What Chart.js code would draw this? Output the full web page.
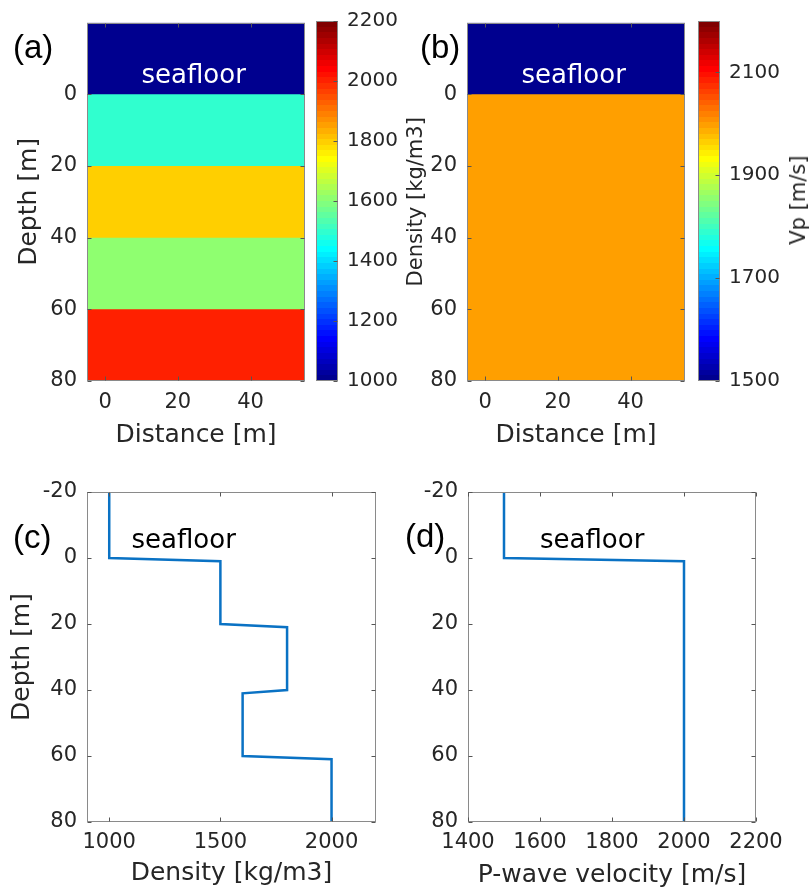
<!DOCTYPE html>
<html>
<head>
<meta charset="utf-8">
<script src="https://cdn.jsdelivr.net/npm/chart.js@4.4.0/dist/chart.umd.min.js"></script>
<style>
  body { margin: 0; background: #fff; }
  #fig { position: relative; width: 809px; height: 891px; overflow: hidden; }
  canvas { position: absolute; }
  .tag { position: absolute; font-family: "Liberation Sans"; font-size: 33px; color: #000; line-height: 1; }
  .cbtitle { position: absolute; font-family: "DejaVu Sans"; font-size: 21px; color: #262626;
             white-space: nowrap; transform: translate(-50%, -50%) rotate(-90deg); }
</style>
</head>
<body>
<div id="fig">
  <canvas id="rhoMap" width="312" height="460" style="left:0;top:0"></canvas>
  <canvas id="rhoBar" width="90" height="460" style="left:310px;top:0"></canvas>
  <canvas id="vpMap" width="295" height="460" style="left:400px;top:0"></canvas>
  <canvas id="vpBar" width="117" height="460" style="left:692px;top:0"></canvas>
  <canvas id="rhoLine" width="400" height="431" style="left:0;top:460px"></canvas>
  <canvas id="vpLine" width="409" height="431" style="left:400px;top:460px"></canvas>
  <div class="tag" style="left:13px;top:30px">(a)</div>
  <div class="tag" style="left:420px;top:30px">(b)</div>
  <div class="tag" style="left:13px;top:520px">(c)</div>
  <div class="tag" style="left:405px;top:519px">(d)</div>
  <div class="cbtitle" style="left:798px;top:200px">Vp [m/s]</div>
</div>
<script>
// layered model: top depth of each layer, the last one runs to the bottom
const layerTop = [-20, 0, 20, 40, 60];
const rhoLayer = [1000, 1500, 1800, 1600, 2000];
const vpTop = [-20, 0];
const vpLayer = [1500, 2000];
const distanceEdges = [-5, 55];

// 1-D profiles
const rhoDepth = [-20, 0, 1, 20, 21, 40, 41, 60, 61, 80];
const rhoProfile = [1000, 1000, 1500, 1500, 1800, 1800, 1600, 1600, 2000, 2000];
const vpDepth = [-20, 0, 1, 80];
const vpProfile = [1500, 1500, 2000, 2000];

// axis ticks
const mapDepthTicks = [0, 20, 40, 60, 80];
const distTicks = [0, 20, 40];
const rhoBarTicks = [1000, 1200, 1400, 1600, 1800, 2000, 2200];
const vpBarTicks = [1500, 1700, 1900, 2100];
const lineDepthTicks = [-20, 0, 20, 40, 60, 80];
const rhoTicks = [1000, 1500, 2000];
const vpTicks = [1400, 1600, 1800, 2000, 2200];

Chart.defaults.font.family = 'DejaVu Sans';
Chart.defaults.color = '#262626';
Chart.defaults.animation = false;

// matlab's jet(64)
function jet64() {
  const n = 64, m = 16;
  const u = [];
  for (let i = 1; i <= m; i++) u.push(i / m);
  for (let i = 1; i < m; i++) u.push(1);
  for (let i = m; i >= 1; i--) u.push(i / m);
  const J = Array.from({ length: n }, () => [0, 0, 0]);
  u.forEach((val, k) => {
    const g = m / 2 + k + 1;
    if (g + m <= n) J[g + m - 1][0] = val;
    J[g - 1][1] = val;
    if (g - m >= 1) J[g - m - 1][2] = val;
  });
  return J;
}
const jet = jet64();
const rgb = c => `rgb(${Math.round(c[0] * 255)},${Math.round(c[1] * 255)},${Math.round(c[2] * 255)})`;

function mapColor(v, lo, hi) {
  let i = Math.floor((v - lo) / (hi - lo) * 64);
  i = Math.max(0, Math.min(63, i));
  return rgb(jet[i]);
}

function jetGradient(ctx, area) {
  const g = ctx.createLinearGradient(0, area.bottom, 0, area.top);
  jet.forEach((c, i) => {
    g.addColorStop(i / 64, rgb(c));
    g.addColorStop((i + 1) / 64, rgb(c));
  });
  return g;
}

// box around the axes with inward tick marks, like matlab
const boxPlugin = {
  id: 'box',
  afterDatasetsDraw(chart, args, opts) {
    const { ctx, chartArea: a, scales } = chart;
    const L = Math.round(a.left) + 0.5, R = Math.round(a.right) - 0.5;
    const T = Math.round(a.top) + 0.5, B = Math.round(a.bottom) - 0.5;
    ctx.save();
    ctx.strokeStyle = '#8a8a8a';
    ctx.lineWidth = 1;
    ctx.strokeRect(L, T, R - L, B - T);
    ctx.strokeStyle = '#555';
    ctx.beginPath();
    const len = 4;
    if (!opts.barOnly) {
      scales.x.ticks.forEach(t => {
        const px = Math.round(scales.x.getPixelForValue(t.value)) + 0.5;
        ctx.moveTo(px, B); ctx.lineTo(px, B - len);
        ctx.moveTo(px, T); ctx.lineTo(px, T + len);
      });
    }
    scales.y.ticks.forEach(t => {
      const py = Math.round(scales.y.getPixelForValue(t.value)) + 0.5;
      if (!opts.barOnly) { ctx.moveTo(L, py); ctx.lineTo(L + len, py); }
      ctx.moveTo(R, py); ctx.lineTo(R - len, py);
    });
    ctx.stroke();
    ctx.restore();
  }
};

// "seafloor" annotation placed in data coordinates
const notePlugin = {
  id: 'note',
  afterDatasetsDraw(chart, args, opts) {
    if (!opts.text) return;
    const { ctx, scales } = chart;
    ctx.save();
    ctx.font = '26px "DejaVu Sans"';
    ctx.fillStyle = opts.color;
    ctx.textAlign = 'left';
    ctx.textBaseline = 'middle';
    ctx.fillText(opts.text, scales.x.getPixelForValue(opts.x), scales.y.getPixelForValue(opts.y));
    ctx.restore();
  }
};

function fixedTicks(list) {
  return scale => { scale.ticks = list.map(v => ({ value: v })); };
}
const plain = v => String(v);
const noGrid = { display: false, drawTicks: false };

function xAxis(min, max, ticks, title, h, titlePad, tickPad) {
  return {
    type: 'linear', min, max,
    afterBuildTicks: fixedTicks(ticks),
    afterFit: s => { s.height = h; },
    grid: noGrid, border: { display: false },
    ticks: { font: { size: 21 }, padding: tickPad, maxRotation: 0, callback: plain },
    title: { display: true, text: title, font: { size: 25 }, padding: { bottom: titlePad } }
  };
}

function yAxis(min, max, ticks, title, w, titleSize, titlePad) {
  return {
    type: 'linear', min, max, reverse: true,
    afterBuildTicks: fixedTicks(ticks),
    afterFit: s => { s.width = w; },
    grid: noGrid, border: { display: false },
    ticks: { font: { size: 21 }, padding: 10, callback: plain },
    title: { display: !!title, text: title, font: { size: titleSize }, padding: { top: titlePad } }
  };
}

function layerMap(id, tops, values, lo, hi, cfg) {
  // each layer fills from its top down to the bottom; deeper layers paint over
  const datasets = tops.map((d, k) => ({
    data: distanceEdges.map(x => ({ x, y: d })),
    showLine: true, borderWidth: 0, pointRadius: 0,
    fill: 'start', backgroundColor: mapColor(values[k], lo, hi),
    order: -k
  }));
  new Chart(document.getElementById(id), {
    type: 'scatter',
    data: { datasets },
    options: {
      responsive: false,
      layout: { padding: { top: 18, right: cfg.padRight } },
      plugins: {
        legend: { display: false }, tooltip: { enabled: false },
        note: { text: 'seafloor', x: 10, y: -5, color: '#fff' }, box: {}
      },
      scales: {
        x: xAxis(distanceEdges[0], distanceEdges[1], distTicks, 'Distance [m]', 79, 10, 9),
        y: yAxis(-20, 80, mapDepthTicks, cfg.yTitle, cfg.yWidth, cfg.yTitleSize, cfg.yTitlePad)
      }
    },
    plugins: [boxPlugin, notePlugin]
  });
}

function colorBar(id, lo, hi, ticks, axisWidth) {
  new Chart(document.getElementById(id), {
    type: 'bar',
    data: {
      labels: [''],
      datasets: [{
        data: [[lo, hi]],
        barPercentage: 1, categoryPercentage: 1,
        backgroundColor: c => c.chart.chartArea ? jetGradient(c.chart.ctx, c.chart.chartArea) : '#000'
      }]
    },
    options: {
      responsive: false,
      layout: { padding: { left: 6, top: 18, bottom: 79 } },
      plugins: { legend: { display: false }, tooltip: { enabled: false }, box: { barOnly: true } },
      scales: {
        x: { display: false },
        y: {
          position: 'right', min: lo, max: hi,
          afterBuildTicks: fixedTicks(ticks),
          afterFit: s => { s.width = axisWidth; },
          grid: noGrid, border: { display: false },
          ticks: { font: { size: 20 }, padding: 9, callback: plain }
        }
      }
    },
    plugins: [boxPlugin]
  });
}

function profile(id, xs, ys, cfg) {
  new Chart(document.getElementById(id), {
    type: 'scatter',
    data: {
      datasets: [{
        data: xs.map((v, i) => ({ x: v, y: ys[i] })),
        showLine: true, borderColor: '#0a72c4', borderWidth: 2.5,
        pointRadius: 0, tension: 0
      }]
    },
    options: {
      responsive: false,
      layout: { padding: { top: 32, right: cfg.padRight } },
      plugins: {
        legend: { display: false }, tooltip: { enabled: false },
        note: { text: 'seafloor', x: cfg.noteX, y: -5, color: '#000' }, box: {}
      },
      scales: {
        x: xAxis(cfg.xMin, cfg.xMax, cfg.xTicks, cfg.xTitle, 69, cfg.xTitlePad, 8),
        y: yAxis(-20, 80, lineDepthTicks, cfg.yTitle, cfg.yWidth, 25, 7)
      }
    },
    plugins: [boxPlugin, notePlugin]
  });
}

layerMap('rhoMap', layerTop, rhoLayer, 1000, 2200,
  { padRight: 7, yTitle: 'Depth [m]', yWidth: 87, yTitleSize: 25, yTitlePad: 14 });
colorBar('rhoBar', 1000, 2200, rhoBarTicks, 62);

layerMap('vpMap', vpTop, vpLayer, 1500, 2200,
  { padRight: 10, yTitle: 'Density [kg/m3]', yWidth: 67, yTitleSize: 21, yTitlePad: 4 });
colorBar('vpBar', 1500, 2200, vpBarTicks, 89);

profile('rhoLine', rhoProfile, rhoDepth, {
  padRight: 24, xMin: 900, xMax: 2200, xTicks: rhoTicks, xTitle: 'Density [kg/m3]',
  xTitlePad: 3, yTitle: 'Depth [m]', yWidth: 87, noteX: 1100
});
profile('vpLine', vpProfile, vpDepth, {
  padRight: 53, xMin: 1400, xMax: 2200, xTicks: vpTicks, xTitle: 'P-wave velocity [m/s]',
  xTitlePad: 1, yTitle: '', yWidth: 68, noteX: 1600
});
</script>
</body>
</html>
